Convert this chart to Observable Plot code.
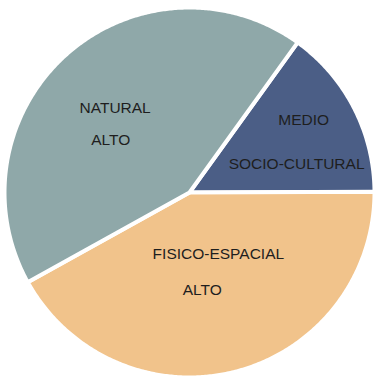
<!DOCTYPE html>
<html>
<head>
<meta charset="utf-8">
<script src="https://cdn.jsdelivr.net/npm/d3@7"></script>
<script src="https://cdn.jsdelivr.net/npm/@observablehq/plot@0.6"></script>
<style>
  html, body { margin: 0; padding: 0; background: #fff; }
  #chart { width: 374px; height: 377px; }
</style>
</head>
<body>
<div id="chart"></div>
<script>
// ---- data ----
const categories = ["MEDIO SOCIO-CULTURAL", "FISICO-ESPACIAL ALTO", "NATURAL ALTO"];
const labelLines = [["MEDIO", "SOCIO-CULTURAL"], ["FISICO-ESPACIAL", "ALTO"], ["NATURAL", "ALTO"]];
const values = [15, 42, 43];

// ---- style / layout ----
const colors = ["#4b5e86", "#f1c38b", "#8fa8a9"];
const startAngle = 35.8 * Math.PI / 180;
// label line positions in chart units (centre of each text line)
const labelPos = [
  [[0.617, 0.393], [0.579, 0.153]],
  [[0.156, -0.331], [0.069, -0.525]],
  [[-0.402, 0.459], [-0.426, 0.284]]
];

const pie = d3.pie().sort(null).value(d => d.value)
  .startAngle(startAngle).endAngle(startAngle + 2 * Math.PI);
const arcs = pie(categories.map((name, i) => ({name, value: values[i]})));

// polygon outline of each slice (centre -> arc -> centre)
const pts = [];
for (const a of arcs) {
  const name = a.data.name;
  pts.push({name, x: 0, y: 0});
  const n = Math.max(2, Math.ceil((a.endAngle - a.startAngle) / (0.5 * Math.PI / 180)));
  for (let k = 0; k <= n; k++) {
    const t = a.startAngle + (a.endAngle - a.startAngle) * k / n;
    pts.push({name, x: Math.sin(t), y: Math.cos(t)});
  }
  pts.push({name, x: 0, y: 0});
}

const labels = [];
categories.forEach((c, i) => {
  labelLines[i].forEach((txt, j) => {
    labels.push({text: txt, x: labelPos[i][j][0], y: labelPos[i][j][1]});
  });
});

const chart = Plot.plot({
  width: 374,
  height: 377,
  margin: 0,
  x: {domain: [-1, 1], range: [4, 374], axis: null},
  y: {domain: [-1, 1], range: [377, 7], axis: null},
  color: {domain: categories, range: colors},
  style: {background: "#fff", fontFamily: "'Liberation Sans', Arial, sans-serif"},
  marks: [
    Plot.line(pts, {x: "x", y: "y", z: "name", fill: "name", stroke: "#fff", strokeWidth: 4, strokeLinejoin: "round"}),
    Plot.text(labels, {x: "x", y: "y", text: "text", fontSize: 15.5, fill: "#1e1e1e", textAnchor: "middle"})
  ]
});
document.getElementById("chart").appendChild(chart);
</script>
</body>
</html>
